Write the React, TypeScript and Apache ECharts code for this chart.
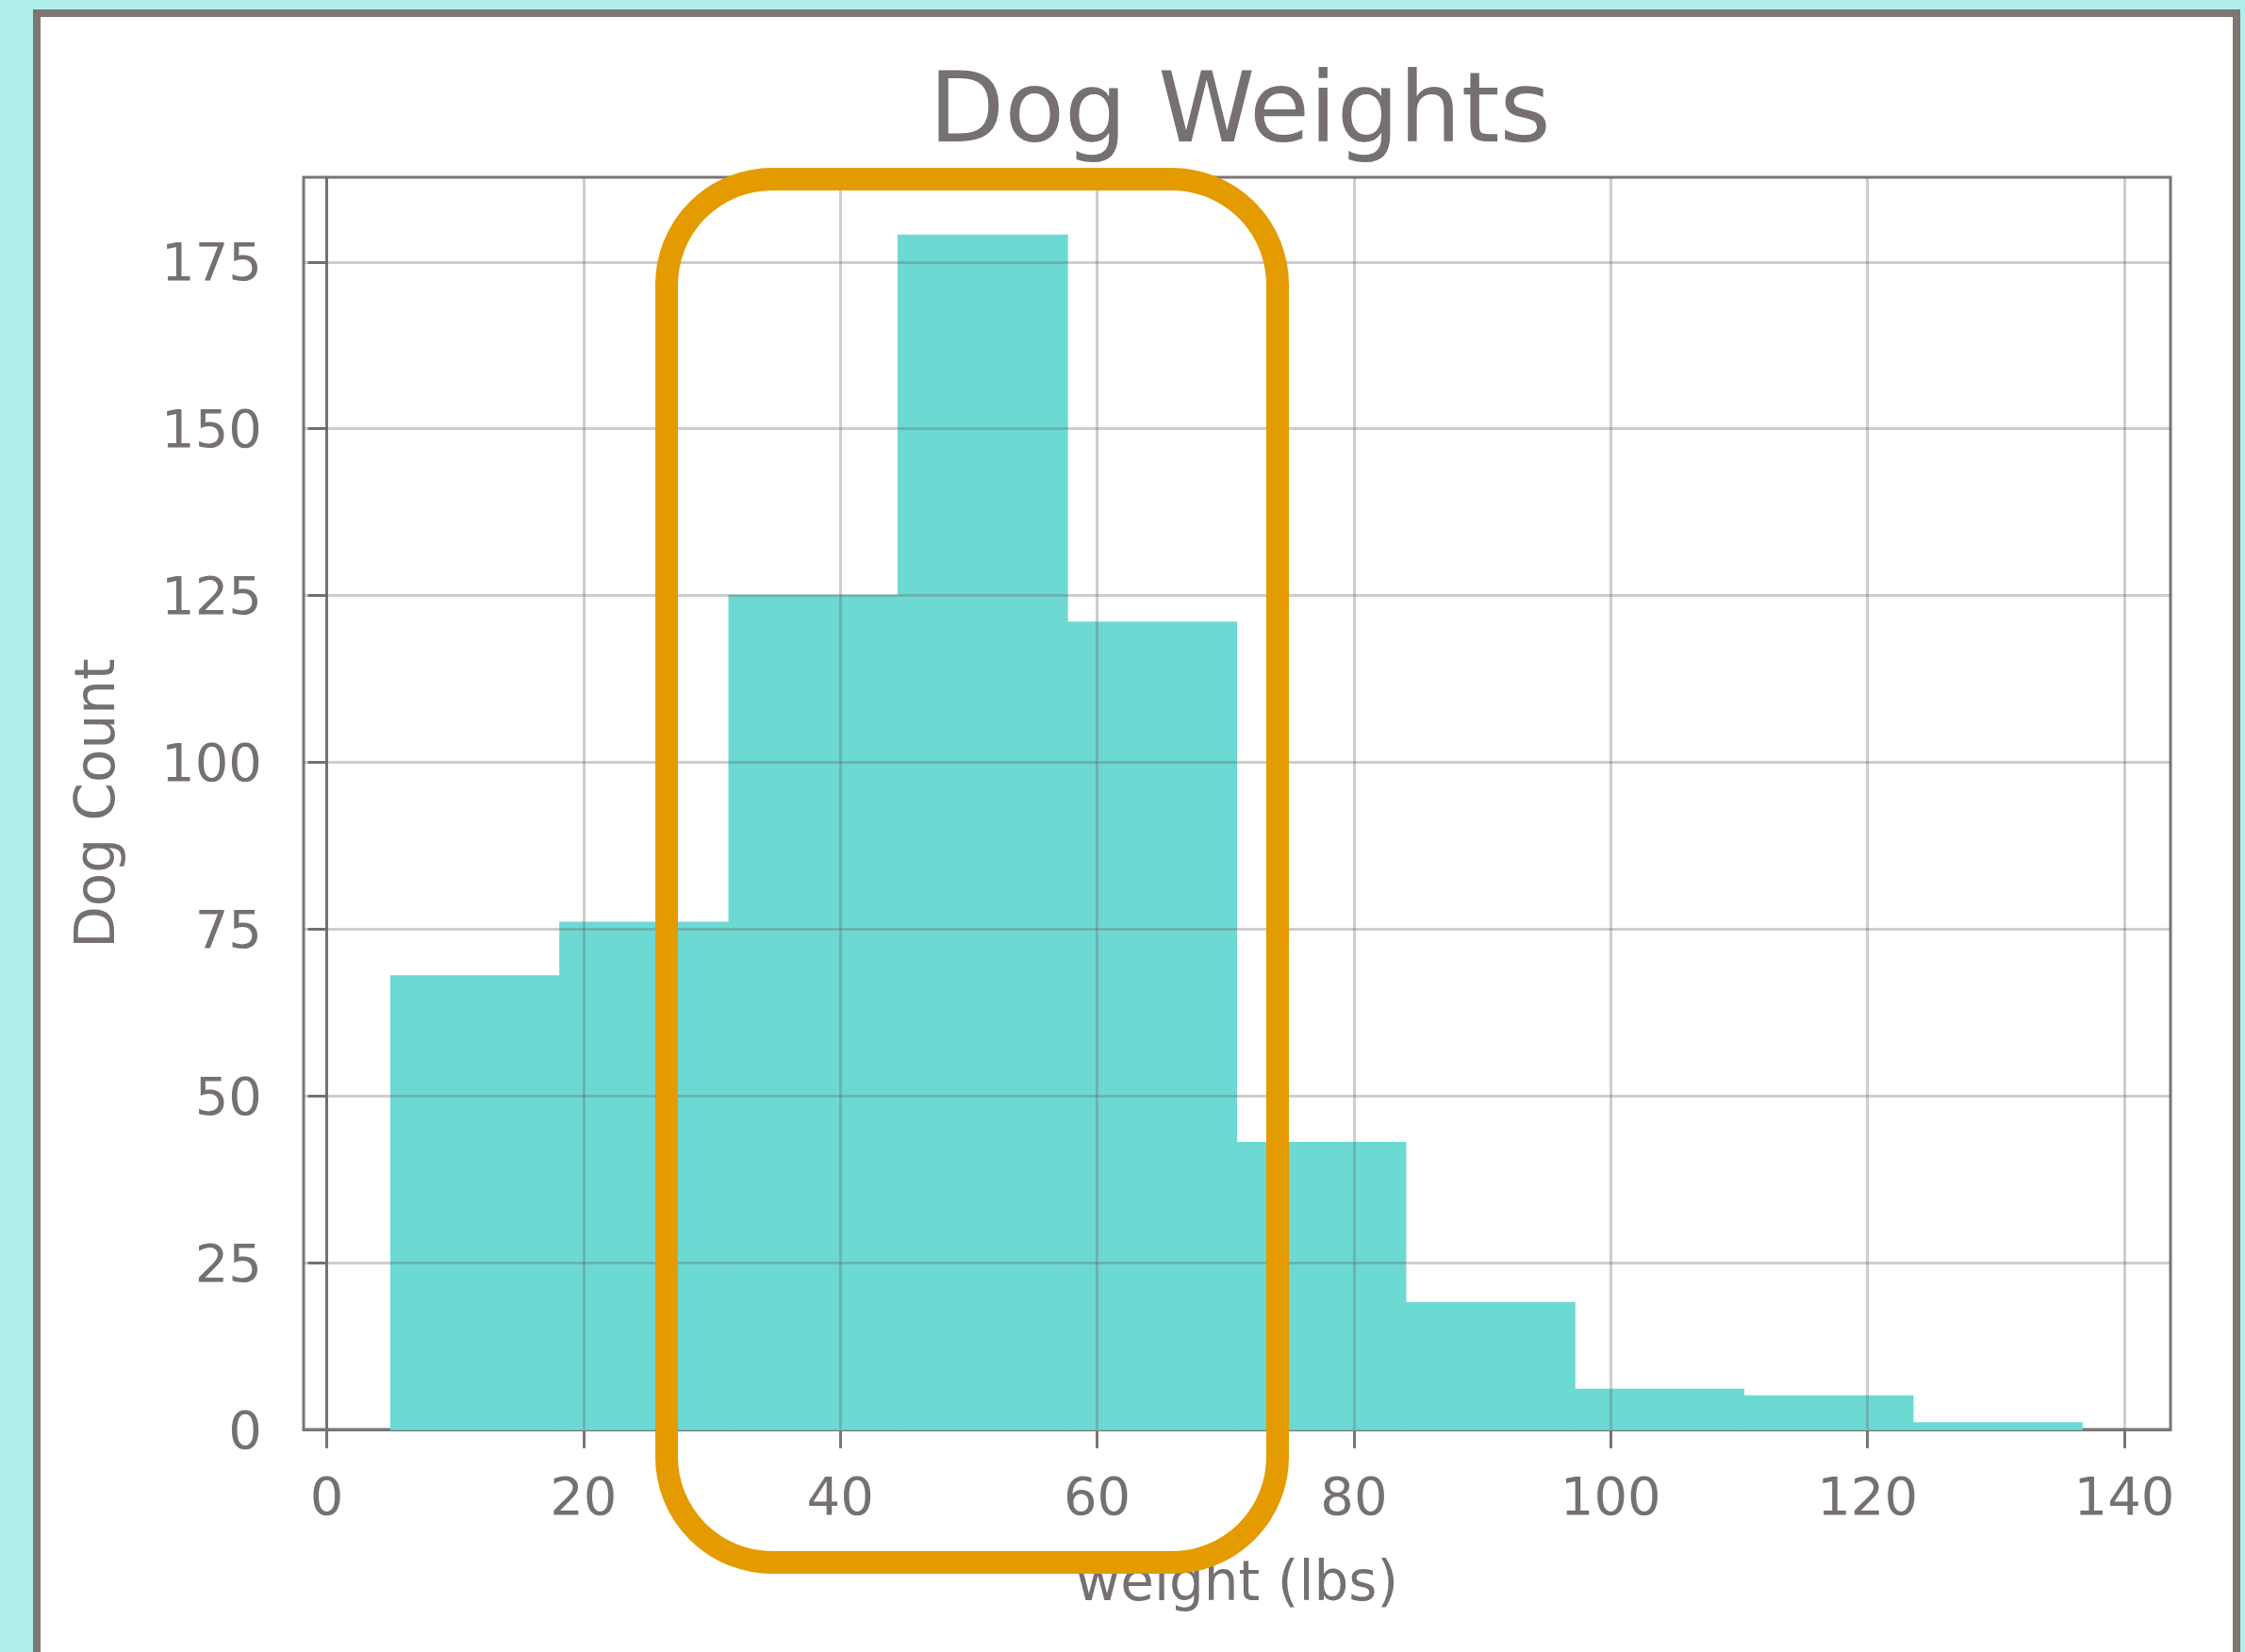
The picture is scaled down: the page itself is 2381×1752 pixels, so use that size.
import React, { useEffect, useRef } from "react";
import * as echarts from "echarts";

const binEdges = [5, 18.17, 31.34, 44.51, 57.68, 70.85, 84.02, 97.19, 110.36, 123.53, 136.7];
const dogCounts = [68, 76, 125, 179, 121, 43, 19, 6, 5, 1];
const xTicks = [0, 20, 40, 60, 80, 100, 120, 140];
const yTicks = [0, 25, 50, 75, 100, 125, 150, 175];

const TEXT = "#767070";
const FRAME = "#7b7575";
const FONT = "'DejaVu Sans', sans-serif";
const BAR = "#6dd9d3";

export default function App() {
  const ref = useRef<HTMLDivElement>(null);
  useEffect(() => {
    if (!ref.current) return;
    const chart = echarts.init(ref.current, null, { renderer: "svg" });
    const histData = dogCounts.map((c, i) => [binEdges[i], binEdges[i + 1], c]);
    chart.setOption({
      animation: false,
      backgroundColor: "transparent",
      title: {
        text: "Dog Weights",
        left: 1310,
        top: 57,
        textAlign: "center",
        textStyle: { fontFamily: FONT, fontSize: 104, fontWeight: "normal", color: TEXT },
      },
      grid: {
        left: 322,
        right: 79,
        top: 188,
        bottom: 236,
        show: true,
        borderColor: FRAME,
        borderWidth: 3,
        backgroundColor: "transparent",
      },
      xAxis: {
        type: "value",
        min: -1.8,
        max: 143.6,
        name: "weight (lbs)",
        nameLocation: "middle",
        nameGap: 132,
        nameTextStyle: { fontFamily: FONT, fontSize: 58, color: TEXT },
        axisLine: { show: true, onZero: false, lineStyle: { color: FRAME, width: 3 } },
        axisTick: { show: true, length: 20, inside: false, customValues: xTicks, lineStyle: { color: FRAME, width: 3 } },
        axisLabel: { show: true, margin: 42, customValues: xTicks, fontFamily: FONT, fontSize: 56, color: TEXT },
        splitLine: { show: false },
      },
      yAxis: {
        type: "value",
        min: 0,
        max: 187.7,
        name: "Dog Count",
        nameLocation: "middle",
        nameRotate: 90,
        nameGap: 192,
        nameTextStyle: { fontFamily: FONT, fontSize: 58, color: TEXT },
        axisLine: { show: true, lineStyle: { color: FRAME, width: 3 } },
        axisTick: { show: true, length: 20, inside: false, customValues: yTicks, lineStyle: { color: FRAME, width: 3 } },
        axisLabel: { show: true, margin: 44, customValues: yTicks, fontFamily: FONT, fontSize: 56, color: TEXT },
        splitLine: { show: false },
      },
      series: [
        {
          type: "custom",
          z: 2,
          data: histData,
          encode: { x: [0, 1], y: 2 },
          renderItem: (params: any, api: any) => {
            const p0 = api.coord([api.value(0), api.value(2)]);
            const p1 = api.coord([api.value(1), 0]);
            return {
              type: "rect",
              shape: { x: p0[0], y: p0[1], width: p1[0] - p0[0], height: p1[1] - p0[1] },
              style: { fill: BAR, stroke: BAR, lineWidth: 1.5 },
            };
          },
        },
        {
          type: "line",
          z: 3,
          data: [],
          markLine: {
            silent: true,
            symbol: "none",
            label: { show: false },
            lineStyle: { color: "rgba(105,100,100,0.32)", width: 3, type: "solid" },
            data: [
              ...xTicks.map((v) => ({ xAxis: v })),
              ...yTicks.filter((v) => v > 0).map((v) => ({ yAxis: v })),
            ],
          },
        },
      ],
      graphic: [
        {
          type: "rect",
          z: 100,
          silent: true,
          shape: { x: 707, y: 190, width: 648, height: 1467, r: 112 },
          style: { fill: "none", stroke: "#e39b00", lineWidth: 24 },
        },
      ],
    });
    return () => chart.dispose();
  }, []);

  return (
    <div
      style={{
        position: "fixed",
        left: 0,
        top: 0,
        width: 2381,
        height: 1752,
        background: "#b1efeb",
        overflow: "hidden",
      }}
    >
      <div
        style={{
          position: "absolute",
          left: 35,
          top: 10,
          width: 2341,
          height: 1760,
          boxSizing: "border-box",
          border: "8px solid #7f7572",
          background: "#ffffff",
        }}
      />
      <div ref={ref} style={{ position: "absolute", left: 0, top: 0, width: 2381, height: 1752 }} />
    </div>
  );
}
